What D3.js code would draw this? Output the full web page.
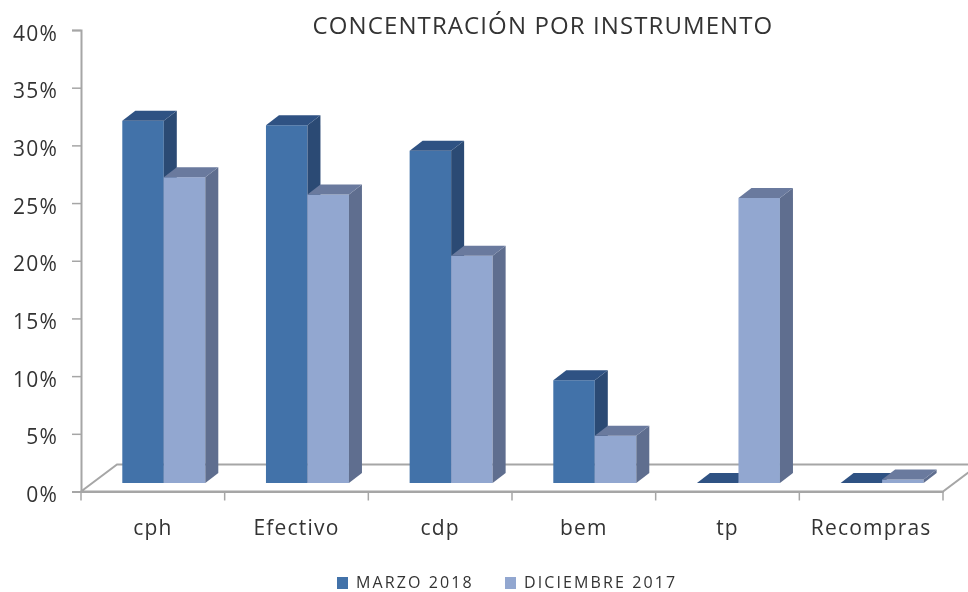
<!DOCTYPE html>
<html>
<head>
<meta charset="utf-8">
<script src="https://cdn.jsdelivr.net/npm/d3@7"></script>
<style>
html, body { margin: 0; padding: 0; background: #fff; overflow: hidden; }
svg { display: block; filter: blur(0.45px); }
text { font-family: "Open Sans", sans-serif; fill: #333; }
.axis text { font-size: 21px; letter-spacing: 1.2px; }
</style>
</head>
<body>
<svg id="chart" width="968" height="592"></svg>
<script>
const categories = ['cph', 'Efectivo', 'cdp', 'bem', 'tp', 'Recompras']
const marzo2018 = [31.4, 31, 28.8, 8.9, 0, 0]
const diciembre2017 = [26.5, 25, 19.7, 4.1, 24.7, 0.3]
const yTicks = [0, 5, 10, 15, 20, 25, 30, 35, 40]
const seriesNames = ['MARZO 2018', 'DICIEMBRE 2017']

const svg = d3.select('#chart')

const plotLeft = 81, plotRight = 943, plotBottom = 491.5, plotTop = 30
// how far the 3d floor runs back, and where the bars sit on it
const floorDx = 36, floorDy = -27
const barDx = 13, barDy = -10
const baseDy = -8.5

const x = d3.scaleBand().domain(categories).range([plotLeft, plotRight])
const inner = d3.scaleBand().domain([0, 1]).range([41.3, 41.3 + 83])
const y = d3.scaleLinear().domain([0, 40]).range([plotBottom, plotTop])

const series = [
	{ name: seriesNames[0], values: marzo2018, front: '#4272a9', side: '#2b4a74', top: '#2f5283' },
	{ name: seriesNames[1], values: diciembre2017, front: '#92a7d0', side: '#5f6e8f', top: '#6a7a9e' }
]

// floor
svg.append('polygon')
	.attr('points', [[plotLeft, plotBottom], [plotLeft + floorDx, plotBottom + floorDy], [plotRight + floorDx, plotBottom + floorDy], [plotRight, plotBottom]].join(' '))
	.attr('fill', '#fff')
	.attr('stroke', '#a6a6a6')
	.attr('stroke-width', 2)

const xAxis = svg.append('g')
	.attr('class', 'axis')
	.attr('transform', `translate(0,${plotBottom})`)
	.call(d3.axisBottom(x).tickSize(0).tickPadding(28.5))

xAxis.select('.domain').attr('stroke', '#a6a6a6').attr('stroke-width', 2)
xAxis.selectAll('text').attr('fill', '#333')

// category separators
svg.append('g')
	.selectAll('line')
	.data(d3.range(categories.length + 1))
	.enter()
	.append('line')
	.attr('x1', d => plotLeft + d * x.bandwidth())
	.attr('x2', d => plotLeft + d * x.bandwidth())
	.attr('y1', plotBottom)
	.attr('y2', plotBottom + 9)
	.attr('stroke', '#a6a6a6')
	.attr('stroke-width', 1.5)

const yAxis = svg.append('g')
	.attr('class', 'axis')
	.attr('transform', `translate(${plotLeft},0)`)
	.call(d3.axisLeft(y).tickValues(yTicks).tickFormat(d => d + '%').tickSize(9).tickPadding(14))

yAxis.select('.domain').attr('stroke', '#a6a6a6').attr('stroke-width', 2)
yAxis.selectAll('line').attr('stroke', '#a6a6a6').attr('stroke-width', 1.5)
yAxis.selectAll('text').attr('fill', '#333').attr('dy', 10)

// bars, one category at a time so the light bar covers the dark bar's side
const bars = svg.append('g').attr('transform', `translate(0,${baseDy})`)

categories.forEach((c, i) => {
	series.forEach((s, j) => {
		const x0 = x(c) + inner(j)
		const x1 = x0 + inner.bandwidth()
		const yTop = y(s.values[i])
		const g = bars.append('g')

		g.append('polygon')
			.attr('points', [[x0, plotBottom], [x1, plotBottom], [x1, yTop], [x0, yTop]].join(' '))
			.attr('fill', s.front)

		g.append('polygon')
			.attr('points', [[x1, plotBottom], [x1 + barDx, plotBottom + barDy], [x1 + barDx, yTop + barDy], [x1, yTop]].join(' '))
			.attr('fill', s.side)

		g.append('polygon')
			.attr('points', [[x0, yTop], [x1, yTop], [x1 + barDx, yTop + barDy], [x0 + barDx, yTop + barDy]].join(' '))
			.attr('fill', s.top)
	})
})

svg.append('text')
	.attr('x', 543)
	.attr('y', 34)
	.attr('text-anchor', 'middle')
	.attr('font-size', 24)
	.attr('letter-spacing', 1.1)
	.text('CONCENTRACIÓN POR INSTRUMENTO')

// legend
const legendX = d3.scaleOrdinal().domain(seriesNames).range([337, 505])

const legend = svg.append('g')
	.selectAll('g')
	.data(series)
	.enter()
	.append('g')
	.attr('transform', d => `translate(${legendX(d.name)},577)`)

legend.append('rect')
	.attr('width', 11)
	.attr('height', 12)
	.attr('fill', d => d.front)

legend.append('text')
	.attr('x', 19)
	.attr('y', 10.5)
	.attr('font-size', 16)
	.attr('letter-spacing', 2.1)
	.text(d => d.name)
</script>
</body>
</html>
